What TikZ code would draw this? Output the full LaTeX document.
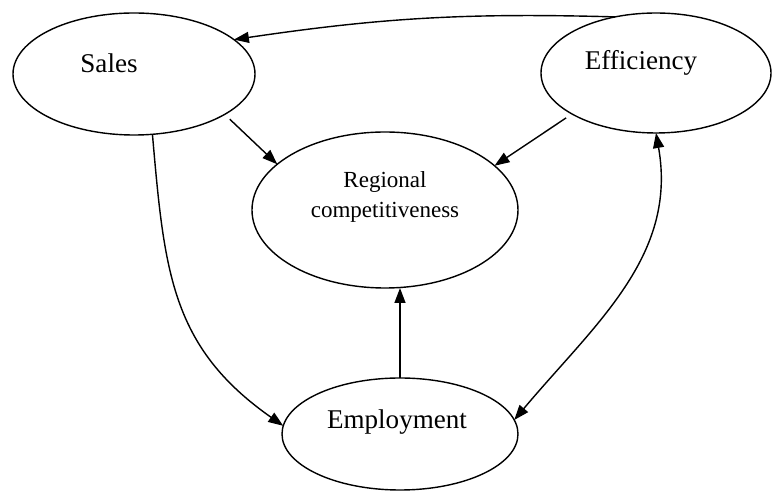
\documentclass[tikz,border=0pt]{standalone}
\usepackage{fontspec}
\setmainfont{Liberation Serif}
\usetikzlibrary{shapes, arrows.meta}

\begin{document}
\begin{tikzpicture}[line width=0.8pt, >={Triangle[length=3mm, width=2.2mm]},
  blob/.style={draw, ellipse, inner sep=0pt, outer sep=0pt},
  tag/.style={font=\fontsize{15.4}{18}\selectfont},
  smalltag/.style={font=\fontsize{13.1}{17}\selectfont, align=center}]
  \useasboundingbox (0,0) rectangle (15.46,9.9);
  \node[blob, minimum width=4.84cm, minimum height=2.44cm, label={[tag, shift={(-0.5,0.22)}]center:Sales}] (sales) at (2.68,8.42) {};
  \node[blob, minimum width=4.6cm, minimum height=2.4cm, label={[tag, shift={(-0.3,0.2)}]center:Efficiency}] (eff) at (13.12,8.44) {};
  \node[blob, minimum width=5.32cm, minimum height=3.12cm, label={[smalltag, shift={(0,0.26)}]center:Regional\\competitiveness}] (reg) at (7.70,5.70) {};
  \node[blob, minimum width=4.72cm, minimum height=2.24cm, label={[tag, shift={(-0.06,0.24)}]center:Employment}] (emp) at (8.00,1.22) {};
  \draw[->] (eff.126.6) to[bend right=5] (sales.19);
  \draw[->, shorten <=4pt] (sales.-24.6) -- (reg.157);
  \draw[->, shorten <=4pt] (eff.206.6) -- (reg.22);
  \draw[->] (emp.north) -- (emp.north |- reg.south);
  \draw[->] (sales.-73.5) to[out=-85, in=145, looseness=1.1] (emp.176.6);
  \draw[<->] (eff.south) to[out=-80, in=50] (emp.7.6);
\end{tikzpicture}
\end{document}
